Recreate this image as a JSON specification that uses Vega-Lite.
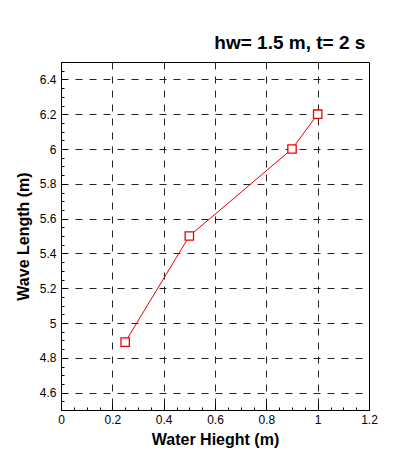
{
  "$schema": "https://vega.github.io/schema/vega-lite/v6.json",
  "width": 308,
  "height": 348,
  "autosize": {"type": "none"},
  "padding": {"left": 61, "top": 62, "right": 44, "bottom": 50},
  "background": "white",
  "title": {"text": "hw= 1.5 m, t= 2 s", "anchor": "end", "font": "Liberation Sans", "fontSize": 19, "fontWeight": "bold", "color": "black", "offset": 9, "dx": -12},
  "config": {
    "view": {"stroke": "black", "strokeWidth": 1},
    "axis": {
      "domainColor": "black",
      "tickColor": "black",
      "labelFont": "Liberation Sans",
      "labelFontSize": 12,
      "labelColor": "black",
      "titleFont": "Liberation Sans",
      "titleFontSize": 16,
      "titleFontWeight": "bold",
      "titleColor": "black",
      "gridColor": "#222222",
      "gridDash": [7, 7],
      "gridWidth": 1
    }
  },
  "data": {
    "values": [
      {"h": 0.25, "L": 4.89},
      {"h": 0.5, "L": 5.5},
      {"h": 0.9, "L": 6.0},
      {"h": 1.0, "L": 6.2}
    ]
  },
  "encoding": {
    "x": {
      "field": "h", "type": "quantitative",
      "scale": {"domain": [0, 1.2], "nice": false, "zero": false},
      "axis": {
        "title": "Water Hieght (m)",
        "values": [0, 0.05, 0.1, 0.15, 0.2, 0.25, 0.3, 0.35, 0.4, 0.45, 0.5, 0.55, 0.6, 0.65, 0.7, 0.75, 0.8, 0.85, 0.9, 0.95, 1, 1.05, 1.1, 1.15, 1.2],
        "labelExpr": "round(datum.value*100) % 20 === 0 ? format(datum.value, '') : ''",
        "tickSize": {"condition": {"test": "round(datum.value*100) % 20 === 0", "value": -6}, "value": -3},
        "gridOpacity": {"condition": {"test": "round(datum.value*100) % 20 === 0 && datum.value > 0 && datum.value < 1.2", "value": 1}, "value": 0},
        "labelPadding": 10,
        "titlePadding": 6,
        "labelFlush": false
      }
    },
    "y": {
      "field": "L", "type": "quantitative",
      "scale": {"domain": [4.5, 6.5], "nice": false, "zero": false},
      "axis": {
        "title": "Wave Length (m)",
        "values": [4.5, 4.55, 4.6, 4.65, 4.7, 4.75, 4.8, 4.85, 4.9, 4.95, 5, 5.05, 5.1, 5.15, 5.2, 5.25, 5.3, 5.35, 5.4, 5.45, 5.5, 5.55, 5.6, 5.65, 5.7, 5.75, 5.8, 5.85, 5.9, 5.95, 6, 6.05, 6.1, 6.15, 6.2, 6.25, 6.3, 6.35, 6.4, 6.45, 6.5],
        "labelExpr": "round(datum.value*100) % 20 === 0 ? format(datum.value, '') : ''",
        "tickSize": {"condition": {"test": "round(datum.value*100) % 20 === 0", "value": -6}, "value": -3},
        "gridOpacity": {"condition": {"test": "round(datum.value*100) % 20 === 0", "value": 1}, "value": 0},
        "labelPadding": 11,
        "titlePadding": 8,
        "labelFlush": false
      }
    }
  },
  "layer": [
    {"mark": {"type": "line", "color": "#ee0000", "strokeWidth": 1}},
    {"mark": {"type": "point", "shape": "square", "size": 70, "filled": false, "fill": "white", "stroke": "#ee0000", "strokeWidth": 1.3, "opacity": 1}}
  ]
}
